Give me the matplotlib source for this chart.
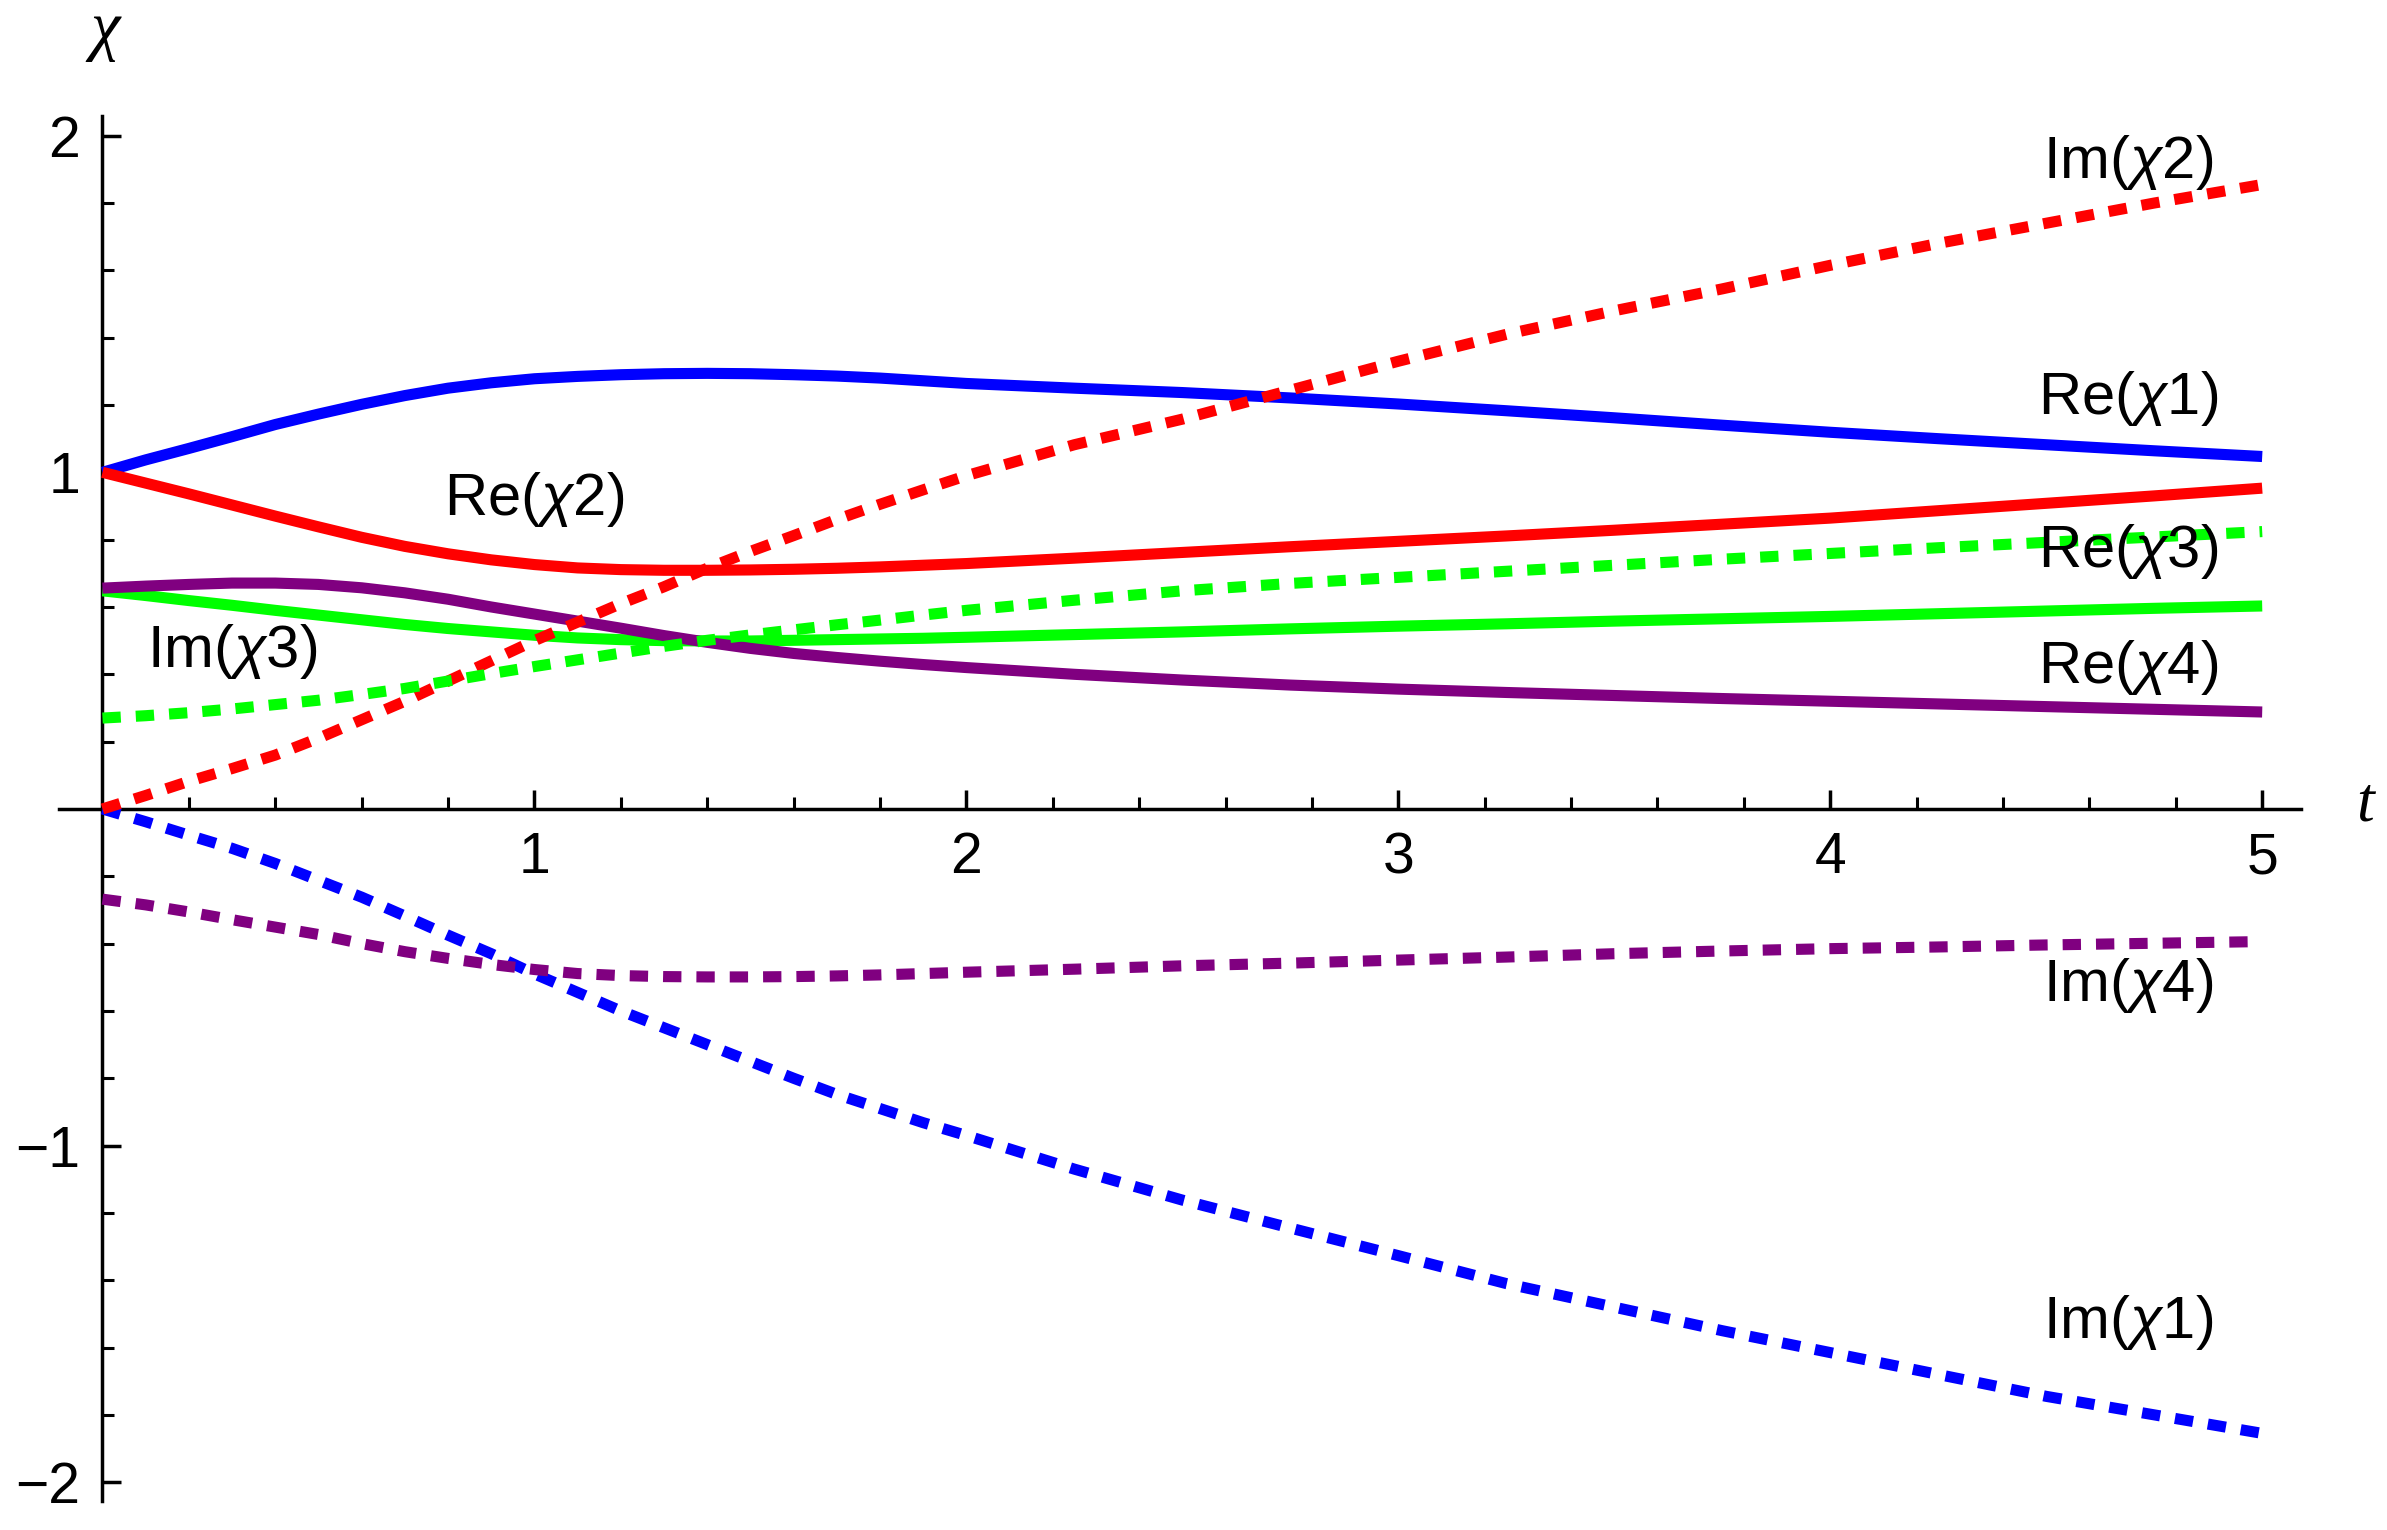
import numpy as np
import matplotlib
matplotlib.use("Agg")
import matplotlib.pyplot as plt
from matplotlib.ticker import FixedLocator, NullFormatter

plt.rcParams['font.family'] = ['Liberation Sans', 'DejaVu Sans']
plt.rcParams['mathtext.fontset'] = 'custom'
plt.rcParams['mathtext.rm'] = 'Liberation Sans'
plt.rcParams['mathtext.it'] = 'Liberation Sans:italic'

# values
t = [0.0, 0.1, 0.2, 0.3, 0.4, 0.5, 0.6, 0.7, 0.8, 0.9, 1.0,
     1.1, 1.2, 1.3, 1.4, 1.5, 1.6, 1.7, 1.8, 1.9, 2.0,
     2.25, 2.5, 2.75, 3.0, 3.25, 3.5, 3.75, 4.0, 4.25, 4.5, 4.75, 5.0]

re_chi1 = [1.0, 1.037, 1.071, 1.106, 1.142, 1.173, 1.202, 1.228, 1.250, 1.266, 1.278,
           1.285, 1.290, 1.293, 1.294, 1.293, 1.290, 1.286, 1.280, 1.272, 1.264,
           1.250, 1.237, 1.221, 1.203, 1.183, 1.162, 1.140, 1.119, 1.100, 1.082, 1.064, 1.047]
im_chi1 = [0.0, -0.038, -0.078, -0.117, -0.162, -0.212, -0.262, -0.318, -0.375, -0.430, -0.490,
           -0.545, -0.600, -0.650, -0.700, -0.750, -0.800, -0.848, -0.890, -0.932, -0.970,
           -1.070, -1.162, -1.245, -1.327, -1.410, -1.480, -1.550, -1.615, -1.680, -1.745, -1.800, -1.855]
re_chi2 = [1.0, 0.968, 0.936, 0.903, 0.870, 0.838, 0.807, 0.780, 0.758, 0.740, 0.726,
           0.716, 0.711, 0.709, 0.709, 0.710, 0.712, 0.715, 0.719, 0.724, 0.729,
           0.745, 0.762, 0.779, 0.795, 0.811, 0.828, 0.846, 0.864, 0.886, 0.908, 0.930, 0.953]
im_chi2 = [0.0, 0.040, 0.082, 0.120, 0.160, 0.210, 0.265, 0.320, 0.380, 0.440, 0.500,
           0.555, 0.610, 0.660, 0.715, 0.765, 0.812, 0.860, 0.905, 0.948, 0.990,
           1.082, 1.158, 1.244, 1.330, 1.410, 1.480, 1.545, 1.615, 1.680, 1.740, 1.800, 1.855]
re_chi3 = [0.648, 0.634, 0.619, 0.605, 0.590, 0.576, 0.562, 0.548, 0.536, 0.526, 0.516,
           0.508, 0.503, 0.500, 0.499, 0.499, 0.501, 0.503, 0.505, 0.507, 0.510,
           0.518, 0.526, 0.535, 0.543, 0.550, 0.558, 0.565, 0.572, 0.580, 0.588, 0.596, 0.603]
im_chi3 = [0.270, 0.277, 0.286, 0.297, 0.310, 0.323, 0.340, 0.358, 0.380, 0.402, 0.423,
           0.443, 0.463, 0.483, 0.501, 0.517, 0.532, 0.547, 0.561, 0.576, 0.590,
           0.620, 0.648, 0.670, 0.688, 0.706, 0.724, 0.742, 0.759, 0.776, 0.792, 0.808, 0.824]
re_chi4 = [0.656, 0.662, 0.667, 0.671, 0.671, 0.667, 0.657, 0.642, 0.623, 0.600, 0.579,
           0.558, 0.537, 0.515, 0.495, 0.477, 0.462, 0.450, 0.439, 0.429, 0.420,
           0.400, 0.383, 0.368, 0.356, 0.346, 0.337, 0.328, 0.320, 0.312, 0.304, 0.296, 0.288]
im_chi4 = [-0.268, -0.285, -0.306, -0.329, -0.351, -0.373, -0.400, -0.424, -0.444, -0.462, -0.477,
           -0.489, -0.495, -0.498, -0.499, -0.499, -0.498, -0.496, -0.493, -0.489, -0.485,
           -0.476, -0.466, -0.458, -0.449, -0.440, -0.430, -0.422, -0.415, -0.410, -0.404, -0.399, -0.394]

blue, red, green, purple = (0, 0, 1), (1, 0, 0), (0, 1, 0), (0.5, 0, 0.5)

solid = [(re_chi1, blue), (re_chi2, red), (re_chi3, green), (re_chi4, purple)]
dashed = [(im_chi1, blue), (im_chi2, red), (im_chi3, green), (im_chi4, purple)]

labels = ['Im($\\chi$2)', 'Re($\\chi$1)', 'Re($\\chi$3)', 'Re($\\chi$4)',
          'Re($\\chi$2)', 'Im($\\chi$3)', 'Im($\\chi$4)', 'Im($\\chi$1)']
label_t = [4.69, 4.69, 4.69, 4.69, 1.0, 0.30, 4.69, 4.69]
label_y = [1.92, 1.218, 0.766, 0.419, 0.918, 0.469, -0.525, -1.527]

fig = plt.figure(figsize=(23.87, 15.30), dpi=100)
ax = fig.add_axes([0.02484, 0.01915, 0.964 - 0.02484, 0.9245 - 0.01915])

lw = 8
for ys, c in solid:
    ax.plot(t, ys, color=c, lw=lw, solid_capstyle='butt', solid_joinstyle='round', zorder=3)
for ys, c in dashed:
    ax.plot(t, ys, color=c, lw=lw, dashes=(1.65, 1.35), zorder=3)

for s, x, y in zip(labels, label_t, label_y):
    ax.text(x, y, s, fontsize=43, ha='center', va='center', zorder=4)

ax.set_xlim(-0.1, 5.09)
ax.set_ylim(-2.055, 2.06)

for side in ['top', 'right']:
    ax.spines[side].set_visible(False)
ax.spines['left'].set_position(('data', 0))
ax.spines['bottom'].set_position(('data', 0))
for side in ['left', 'bottom']:
    ax.spines[side].set_linewidth(2.5)

ax.xaxis.set_major_locator(FixedLocator([1, 2, 3, 4, 5]))
ax.xaxis.set_minor_locator(FixedLocator([i / 5 for i in range(1, 25) if i % 5]))
ax.yaxis.set_major_locator(FixedLocator([-2, -1, 1, 2]))
ax.yaxis.set_minor_locator(FixedLocator([i / 5 for i in range(-9, 10) if i % 5]))
ax.xaxis.set_minor_formatter(NullFormatter())
ax.yaxis.set_minor_formatter(NullFormatter())

ax.tick_params(which='major', direction='in', length=14, width=2.5, labelsize=41, pad=16)
ax.tick_params(which='minor', direction='in', length=8.3, width=2.2)

ax.text(0.006, 2.31, '\u03c7', fontsize=48, family='Liberation Serif', style='italic',
        ha='center', va='center', clip_on=False)
ax.text(5.237, 0.01, 't', fontsize=46, family='Liberation Serif', style='italic',
        ha='center', va='center', clip_on=False)

fig.savefig('out.png', dpi=100)
